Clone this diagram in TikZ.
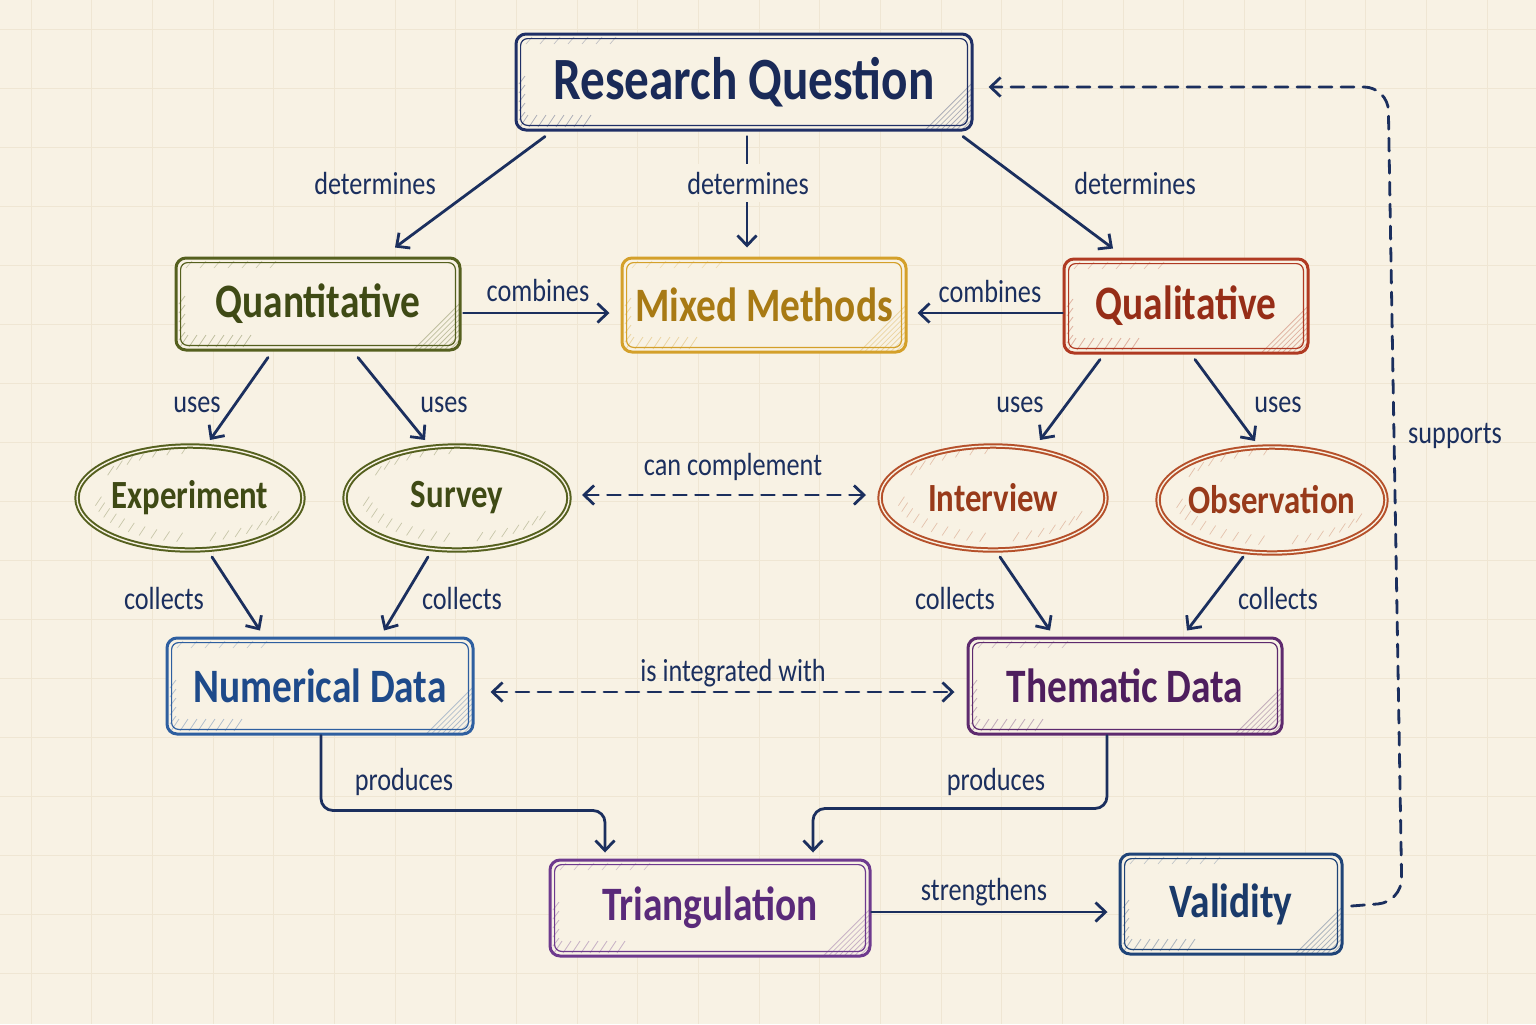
\documentclass[tikz,border=0pt]{standalone}
\usepackage{fontspec}
\setmainfont{Carlito}[FakeStretch=0.82]
\usetikzlibrary{shapes.geometric,arrows.meta,calc}
\definecolor{paper}{HTML}{F8F2E4}
\definecolor{gridc}{HTML}{EFE6D3}
\definecolor{ink}{HTML}{1B2F5E}
\definecolor{rqc}{HTML}{1F2F66}
\definecolor{rqt}{HTML}{1A2A58}
\definecolor{olive}{HTML}{55601E}
\definecolor{olivet}{HTML}{3F4A15}
\definecolor{gold}{HTML}{D4A02A}
\definecolor{goldt}{HTML}{A87A14}
\definecolor{brick}{HTML}{B03A22}
\definecolor{brickt}{HTML}{962D17}
\definecolor{rust}{HTML}{B5502A}
\definecolor{rustt}{HTML}{983A1A}
\definecolor{blu}{HTML}{2E5FA0}
\definecolor{blut}{HTML}{1E4A8A}
\definecolor{plum}{HTML}{5E2A6E}
\definecolor{plumt}{HTML}{4E1E5E}
\definecolor{viol}{HTML}{6E3A8E}
\definecolor{violt}{HTML}{5A2A7A}
\definecolor{navy}{HTML}{1F4478}
\definecolor{navyt}{HTML}{1A3A6A}
\newcommand\myboxdeco[1]{%
  \foreach \k in {1,...,9} {
    \draw[#1, opacity=.35, line width=.4pt]
      ([xshift=-\k*2.6pt]path picture bounding box.south east) -- ([yshift=\k*2.6pt]path picture bounding box.south east);
  }
  \foreach \k in {0,...,7} {
    \draw[#1, opacity=.35, line width=.4pt]
      ([shift={(\k*4.5pt+2pt,1.5pt)}]path picture bounding box.south west) -- ++(4pt,6pt);
  }
  \foreach \k in {0,...,4} {
    \draw[#1, opacity=.35, line width=.4pt]
      ([shift={(1.5pt,\k*4.5pt+5pt)}]path picture bounding box.south west) -- ++(3pt,4pt);
  }
  \foreach \k in {0,...,6} {
    \draw[#1, opacity=.25, line width=.35pt]
      ([shift={(\k*7pt+5pt,-5pt)}]path picture bounding box.north west) -- ++(3pt,3.5pt);
  }
  \draw[#1, line width=.6pt, rounded corners=3.5pt]
    ([shift={(2.3pt,2.3pt)}]path picture bounding box.south west) rectangle
    ([shift={(-2.3pt,-2.3pt)}]path picture bounding box.north east);
}
\newcommand\myovaldeco[1]{%
  \foreach \a in {190,198,...,262, 282,290,...,330, 95,104,...,150} {
    \draw[#1, opacity=.3, line width=.35pt]
      let \p1=($(path picture bounding box.north east)-(path picture bounding box.center)$) in
      ($(path picture bounding box.center)+({0.85*\x1*cos(\a)},{0.85*\y1*sin(\a)})$) -- ++(3pt,4.5pt);
  }
}
\tikzset{
  box/.style={draw=#1, line width=1.5pt,
    rounded corners=5pt, fill=paper, inner sep=0pt, path picture={\myboxdeco{#1}},
    font=\fontsize{24}{28}\selectfont\bfseries},
  oval/.style={ellipse, draw=#1, line width=1pt, double=paper, double distance=0.7pt,
    fill=paper, inner sep=0pt, inner xsep=-5pt, path picture={\myovaldeco{#1}},
    font=\fontsize{20}{24}\selectfont\bfseries},
  lbl/.style={text=ink, font=\fontsize{16}{19}\selectfont, inner sep=1pt},
  conn/.style={draw=ink, line width=1.4pt, line cap=round},
  dconn/.style={conn, dash pattern=on 6.5pt off 4.5pt},
  >={Straight Barb[length=5pt,width=9.5pt,line width=1.4pt]}
}
\begin{document}
\begin{tikzpicture}[x=0.5pt,y=-0.5pt]
\useasboundingbox (0,0) rectangle (1536,1024);
\fill[paper] (0,0) rectangle (1536,1024);
\foreach \i in {0,...,24} {\draw[gridc, line width=0.5pt] (31+\i*60.67,0) -- (31+\i*60.67,1024);}
\foreach \j in {0,...,16} {\draw[gridc, line width=0.5pt] (0,29+\j*59) -- (1536,29+\j*59);}

% nodes
\node[box=rqc, text=rqt, minimum width=228pt, minimum height=48pt, font=\fontsize{30}{34}\selectfont\bfseries] (rq) at (744,82) {Research Question};
\node[box=olive, text=olivet, minimum width=142pt, minimum height=46pt] (quant) at (318,304) {Quantitative};
\node[box=gold, text=goldt, minimum width=142pt, minimum height=47pt] (mixed) at (764,305) {Mixed Methods};
\node[box=brick, text=brickt, minimum width=122pt, minimum height=47pt] (qual) at (1186,306) {Qualitative};
\node[oval=olive, text=olivet, minimum width=113pt, minimum height=52pt] (exp) at (190,498) {Experiment};
\node[oval=olive, text=olivet, minimum width=112pt, minimum height=52pt] (survey) at (457,498) {Survey};
\node[oval=rust, text=rustt, minimum width=113pt, minimum height=52pt] (inter) at (993,498) {Interview};
\node[oval=rust, text=rustt, minimum width=114pt, minimum height=53pt] (obs) at (1272,500) {Observation};
\node[box=blu, text=blut, minimum width=153pt, minimum height=48pt] (num) at (320,686) {Numerical Data};
\node[box=plum, text=plumt, minimum width=157pt, minimum height=48pt] (them) at (1125,686) {Thematic Data};
\node[box=viol, text=violt, minimum width=160pt, minimum height=48pt] (tri) at (710,908) {Triangulation};
\node[box=navy, text=navyt, minimum width=111pt, minimum height=50pt] (val) at (1231,904) {Validity};

% connectors
\draw[conn,->] ($(rq.south)+(-199,5)$) -- ($(quant.north)+(77,-9)$);
\draw[conn,->] ($(rq.south)+(3,5)$) -- ($(mixed.north)+(-17,-9)$);
\draw[conn,->] ($(rq.south)+(219,5)$) -- ($(qual.north)+(-73,-9)$);
\draw[conn,->] ($(quant.east)+(2,9)$) -- ($(mixed.west)+(-11,8)$);
\draw[conn,->] ($(qual.west)+(0,7)$) -- ($(mixed.east)+(10,8)$);
\draw[conn,->] ($(quant.south)+(-50,6)$) -- ($(exp.north)+(20,-5)$);
\draw[conn,->] ($(quant.south)+(40,6)$) -- ($(survey.north)+(-32,-5)$);
\draw[conn,->] ($(qual.south)+(-86,5)$) -- ($(inter.north)+(47,-5)$);
\draw[conn,->] ($(qual.south)+(9,5)$) -- ($(obs.north)+(-17,-5)$);
\draw[dconn,<->] ($(survey.east)+(12,-3)$) -- ($(inter.west)+(-13,-3)$);
\draw[conn,->] ($(exp.south)+(22,6)$) -- ($(num.north)+(-60,-6)$);
\draw[conn,->] ($(survey.south)+(-29,6)$) -- ($(num.north)+(64,-6)$);
\draw[conn,->] ($(inter.south)+(7,6)$) -- ($(them.north)+(-75,-6)$);
\draw[conn,->] ($(obs.south)+(-29,3)$) -- ($(them.north)+(62,-6)$);
\draw[dconn,<->] ($(num.east)+(16,6)$) -- ($(them.west)+(-12,6)$);
\draw[conn,->,rounded corners=6pt] ($(num.south)+(1,0)$) -- ++(0,75) -| ($(tri.north)+(-105,-6)$);
\draw[conn,->,rounded corners=6pt] ($(them.south)+(-18,0)$) -- ++(0,73) -| ($(tri.north)+(103,-6)$);
\draw[conn,->] ($(tri.east)+(0,4)$) -- ($(val.west)+(-11,8)$);
\draw[dconn,->,rounded corners=12pt] ($(val.east)+(8,2)$) -- (1402,902) -- (1388,87) -- ($(rq.east)+(15,5)$);

% labels
\node[lbl] (l1) at (375,183) {determines};
\node[lbl, fill=paper, inner ysep=4pt] (l2) at (748,183) {determines};
\node[lbl] (l3) at (1135,183) {determines};
\node[lbl] (l4) at (538,290) {combines};
\node[lbl] (l5) at (990,291) {combines};
\node[lbl] (l6) at (197,405) {uses};
\node[lbl] (l7) at (444,405) {uses};
\node[lbl] (l8) at (1020,405) {uses};
\node[lbl] (l9) at (1278,405) {uses};
\node[lbl] (l10) at (733,467) {can complement};
\node[lbl] (l11) at (164,598) {collects};
\node[lbl] (l12) at (462,598) {collects};
\node[lbl] (l13) at (955,598) {collects};
\node[lbl] (l14) at (1278,598) {collects};
\node[lbl] (l15) at (733,673) {is integrated with};
\node[lbl] (l16) at (404,782) {produces};
\node[lbl] (l17) at (996,782) {produces};
\node[lbl] (l18) at (984,892) {strengthens};
\node[lbl] (l19) at (1455,436) {supports};
\end{tikzpicture}
\end{document}
